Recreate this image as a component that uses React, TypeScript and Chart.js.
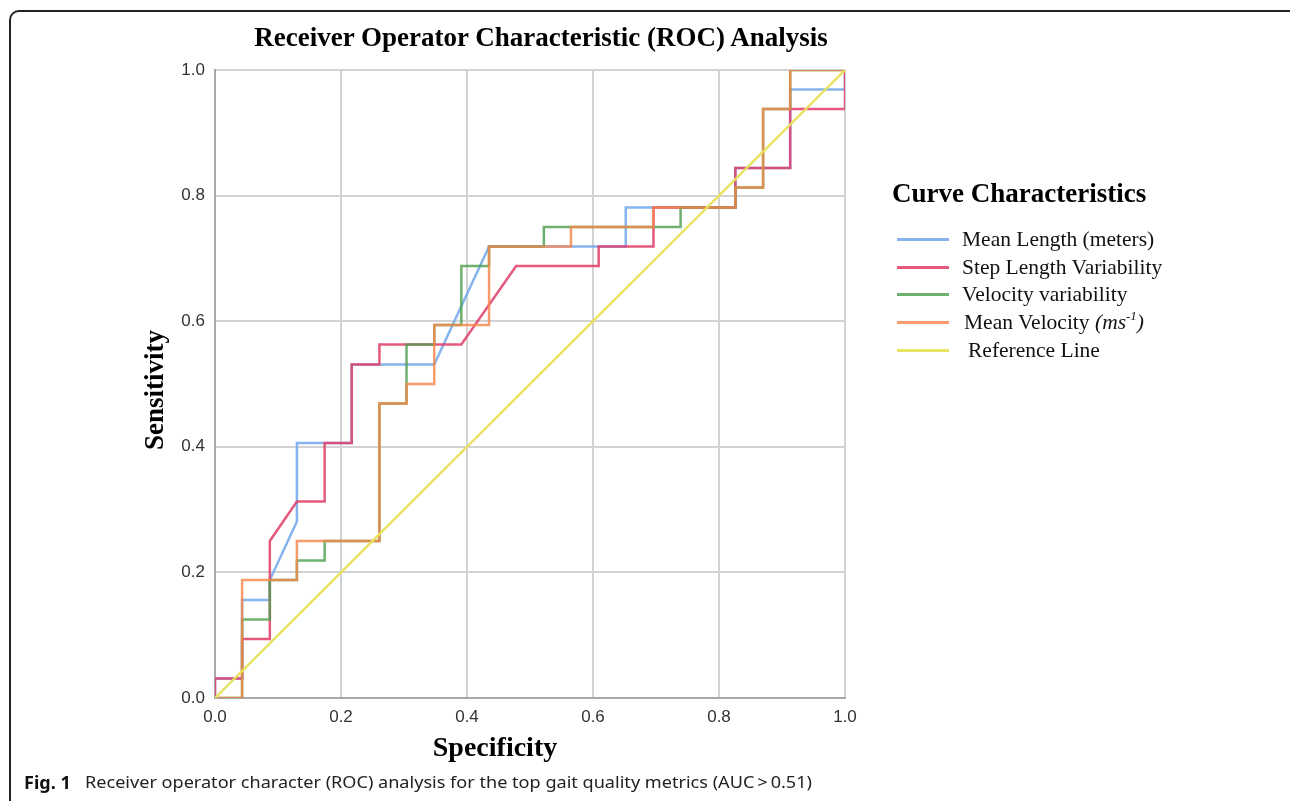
import React, { useEffect, useLayoutEffect, useRef } from "react";
import { Chart, registerables } from "chart.js";

Chart.register(...registerables);

// ---- data (x axis labelled "Specificity", y = sensitivity) ----
const meanLengthX = [0, 0, 0.043, 0.043, 0.087, 0.087, 0.13, 0.13, 0.217, 0.217, 0.348, 0.435, 0.652, 0.652, 0.826, 0.826, 0.913, 0.913, 1, 1];
const meanLengthY = [0, 0.031, 0.031, 0.156, 0.156, 0.188, 0.281, 0.406, 0.406, 0.531, 0.531, 0.719, 0.719, 0.781, 0.781, 0.844, 0.844, 0.969, 0.969, 1];

const stepVarX = [0, 0, 0.043, 0.043, 0.087, 0.087, 0.13, 0.174, 0.174, 0.217, 0.217, 0.261, 0.261, 0.391, 0.478, 0.609, 0.609, 0.696, 0.696, 0.826, 0.826, 0.913, 0.913, 1, 1];
const stepVarY = [0, 0.031, 0.031, 0.094, 0.094, 0.25, 0.313, 0.313, 0.406, 0.406, 0.531, 0.531, 0.563, 0.563, 0.688, 0.688, 0.719, 0.719, 0.781, 0.781, 0.844, 0.844, 0.938, 0.938, 1];

const velVarX = [0, 0.043, 0.043, 0.087, 0.087, 0.13, 0.13, 0.174, 0.174, 0.261, 0.261, 0.304, 0.304, 0.348, 0.348, 0.391, 0.391, 0.435, 0.435, 0.522, 0.522, 0.739, 0.739, 0.826, 0.826, 0.87, 0.87, 0.913, 0.913, 1];
const velVarY = [0, 0, 0.125, 0.125, 0.188, 0.188, 0.219, 0.219, 0.25, 0.25, 0.469, 0.469, 0.563, 0.563, 0.594, 0.594, 0.688, 0.688, 0.719, 0.719, 0.75, 0.75, 0.781, 0.781, 0.813, 0.813, 0.938, 0.938, 1, 1];

const meanVelX = [0, 0.043, 0.043, 0.13, 0.13, 0.261, 0.261, 0.304, 0.304, 0.348, 0.348, 0.435, 0.435, 0.565, 0.565, 0.696, 0.696, 0.826, 0.826, 0.87, 0.87, 0.913, 0.913, 1];
const meanVelY = [0, 0, 0.188, 0.188, 0.25, 0.25, 0.469, 0.469, 0.5, 0.5, 0.594, 0.594, 0.719, 0.719, 0.75, 0.75, 0.781, 0.781, 0.813, 0.813, 0.938, 0.938, 1, 1];

const refX = [0, 1];
const refY = [0, 1];

const seriesNames = ["Mean Length (meters)", "Step Length Variability", "Velocity variability", "Mean Velocity", "Reference Line"];
const seriesColors = ["rgba(120,172,236,0.9)", "rgba(224,66,108,0.88)", "rgba(78,160,78,0.82)", "rgba(246,134,76,0.82)", "rgba(232,226,92,0.95)"];

const axisMin = 0;
const axisMax = 1;
const tickStep = 0.2;

const titleText = "Receiver Operator Characteristic (ROC) Analysis";
const xTitle = "Specificity";
const yTitle = "Sensitivity";
const legendTitle = "Curve Characteristics";
const captionBold = "Fig. 1";
const captionText = "Receiver operator character (ROC) analysis for the top gait quality metrics (AUC\u2009>\u20090.51)";

const toPts = (xs: number[], ys: number[]) => xs.map((x, i) => ({ x, y: ys[i] }));

const SERIF = '"Liberation Serif", "Times New Roman", serif';
const SANS = '"Liberation Sans", Arial, sans-serif';

export default function App() {
  const canvasRef = useRef<HTMLCanvasElement | null>(null);
  const capRef = useRef<HTMLSpanElement | null>(null);

  useLayoutEffect(() => {
    const el = capRef.current;
    if (el) {
      el.style.transform = "none";
      const w = el.getBoundingClientRect().width;
      if (w > 0) el.style.transform = `scaleX(${727 / w})`;
    }
  }, []);

  useEffect(() => {
    const canvas = canvasRef.current;
    if (!canvas) return;
    const series = [
      toPts(meanLengthX, meanLengthY),
      toPts(stepVarX, stepVarY),
      toPts(velVarX, velVarY),
      toPts(meanVelX, meanVelY),
      toPts(refX, refY),
    ];
    const orders = [4, 3, 2, 1, 0];
    const chart = new Chart(canvas, {
      type: "line",
      data: {
        datasets: series.map((d, i) => ({
          label: seriesNames[i],
          data: d,
          borderColor: seriesColors[i],
          backgroundColor: seriesColors[i],
          borderWidth: 2.5,
          pointRadius: 0,
          tension: 0,
          fill: false,
          order: orders[i],
        })),
      },
      options: {
        animation: false,
        responsive: false,
        devicePixelRatio: 1,
        layout: { padding: { left: 120, right: 445, top: 70, bottom: 30 } },
        plugins: { legend: { display: false }, tooltip: { enabled: false }, title: { display: false } },
        scales: {
          x: {
            type: "linear",
            min: axisMin,
            max: axisMax,
            afterFit: (s: any) => {
              s.height = 73;
            },
            grid: { color: "#d2d2d2", lineWidth: 2, drawTicks: false },
            border: { display: true, color: "#a8a8a8", width: 2 },
            ticks: {
              stepSize: tickStep,
              padding: 9,
              color: "#333",
              font: { family: SANS, size: 17 },
              callback: (v: any) => Number(v).toFixed(1),
            },
          },
          y: {
            type: "linear",
            min: axisMin,
            max: axisMax,
            afterFit: (s: any) => {
              s.width = 95;
            },
            grid: { color: "#d2d2d2", lineWidth: 2, drawTicks: false },
            border: { display: true, color: "#a8a8a8", width: 2 },
            ticks: {
              stepSize: tickStep,
              padding: 10,
              color: "#333",
              font: { family: SANS, size: 17 },
              callback: (v: any) => Number(v).toFixed(1),
            },
          },
        },
      },
    });
    return () => chart.destroy();
  }, []);

  const legendRows = [239, 267, 294, 322, 350];
  const legendTextX = [962, 962, 962, 964, 968];

  return (
    <div style={{ position: "absolute", left: 0, top: 0, width: 1290, height: 801, background: "#fff", overflow: "hidden" }}>
      <div
        style={{
          position: "absolute",
          left: 9,
          top: 10,
          width: 1300,
          height: 820,
          borderLeft: "2px solid #222",
          borderTop: "2px solid #222",
          borderTopLeftRadius: 10,
          boxSizing: "border-box",
        }}
      />
      <canvas ref={canvasRef} width={1290} height={801} style={{ position: "absolute", left: 0, top: 0 }} />
      <div
        style={{
          position: "absolute",
          left: 241,
          width: 600,
          top: 21,
          lineHeight: "32px",
          textAlign: "center",
          fontFamily: SERIF,
          fontWeight: "bold",
          fontSize: 27,
          color: "#000",
          whiteSpace: "nowrap",
        }}
      >
        {titleText}
      </div>
      <div
        style={{
          position: "absolute",
          left: 495,
          top: 747,
          transform: "translate(-50%, -50%)",
          lineHeight: "34px",
          fontFamily: SERIF,
          fontWeight: "bold",
          fontSize: 28,
          color: "#000",
          whiteSpace: "nowrap",
        }}
      >
        {xTitle}
      </div>
      <div
        style={{
          position: "absolute",
          left: 154,
          top: 390,
          transform: "translate(-50%, -50%) rotate(-90deg)",
          lineHeight: "32px",
          fontFamily: SERIF,
          fontWeight: "bold",
          fontSize: 27,
          color: "#000",
          whiteSpace: "nowrap",
        }}
      >
        {yTitle}
      </div>
      <div
        style={{
          position: "absolute",
          left: 892,
          top: 177,
          lineHeight: "32px",
          fontFamily: SERIF,
          fontWeight: "bold",
          fontSize: 27,
          color: "#000",
          whiteSpace: "nowrap",
        }}
      >
        {legendTitle}
      </div>
      {seriesNames.map((name, i) => (
        <React.Fragment key={name}>
          <div
            style={{
              position: "absolute",
              left: 897,
              width: 52,
              top: legendRows[i] - 1,
              height: 2.5,
              background: seriesColors[i],
            }}
          />
          <div
            style={{
              position: "absolute",
              left: legendTextX[i],
              top: legendRows[i] - 12,
              height: 24,
              lineHeight: "24px",
              fontFamily: SERIF,
              fontSize: 21.5,
              color: "#111",
              whiteSpace: "nowrap",
            }}
          >
            {name}
            {i === 3 ? (
              <i>
                {" (ms"}
                <span style={{ fontSize: "0.6em", position: "relative", top: "-0.7em", lineHeight: 0 }}>-1</span>
                {")"}
              </i>
            ) : null}
          </div>
        </React.Fragment>
      ))}
      <div
        style={{
          position: "absolute",
          left: 24,
          top: 770,
          lineHeight: "24px",
          fontFamily: '"Noto Sans", "Open Sans", sans-serif',
          fontSize: 18,
          fontWeight: "bold",
          color: "#111",
          whiteSpace: "nowrap",
        }}
      >
        {captionBold}
      </div>
      <span
        ref={capRef}
        style={{
          position: "absolute",
          left: 85,
          top: 770,
          lineHeight: "24px",
          fontFamily: '"Noto Sans", "Open Sans", sans-serif',
          fontSize: 17,
          color: "#222",
          whiteSpace: "nowrap",
          transformOrigin: "0 0",
          display: "inline-block",
        }}
      >
        {captionText}
      </span>
    </div>
  );
}
